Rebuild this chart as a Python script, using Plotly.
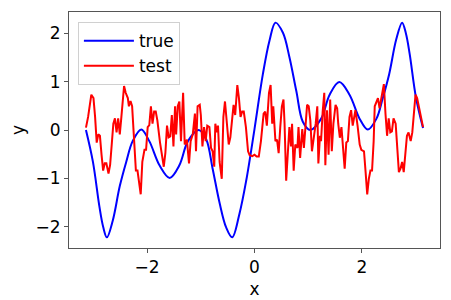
import plotly.graph_objects as go

# "true" curve
x_true = [-3.14, -3.01, -2.89, -2.82, -2.75, -2.64, -2.51, -2.39, -2.27, -2.11,
          -1.96, -1.77, -1.58, -1.40, -1.24, -1.04, -0.90, -0.78, -0.65, -0.53,
          -0.415, -0.28, -0.155, 0.0, 0.155, 0.28, 0.39, 0.53, 0.65, 0.78,
          0.90, 1.04, 1.24, 1.40, 1.58, 1.77, 1.96, 2.11, 2.27, 2.39,
          2.51, 2.64, 2.75, 2.82, 2.89, 3.01, 3.14]
y_true = [0.0, -0.66, -1.58, -2.0, -2.22, -1.87, -1.16, -0.66, -0.23, 0.01,
          -0.23, -0.73, -0.99, -0.73, -0.23, 0.0, -0.19, -0.8, -1.51, -2.01,
          -2.22, -1.73, -1.05, 0.02, 1.15, 1.85, 2.22, 2.01, 1.51, 0.8,
          0.17, 0.0, 0.23, 0.73, 0.99, 0.73, 0.23, 0.01, 0.23, 0.66,
          1.16, 1.87, 2.22, 2.0, 1.58, 0.66, 0.04]

# noisy "test" series
x_test = [-3.14, -3.10, -3.04, -3.00, -2.97, -2.94, -2.91, -2.88, -2.85, -2.82,
          -2.79, -2.76, -2.72, -2.69, -2.66, -2.63, -2.60, -2.57, -2.54, -2.51,
          -2.48, -2.43, -2.40, -2.36, -2.34, -2.31, -2.28, -2.24, -2.21, -2.18,
          -2.12, -2.09, -2.05, -2.02, -1.99, -1.96, -1.93, -1.90, -1.87, -1.84,
          -1.81, -1.76, -1.73, -1.69, -1.66, -1.63, -1.60, -1.57, -1.54, -1.51,
          -1.48, -1.46, -1.43, -1.40, -1.37, -1.33, -1.30, -1.26, -1.22, -1.19,
          -1.15, -1.11, -1.09, -1.06, -1.02, -1.00, -0.97, -0.94, -0.91, -0.88,
          -0.84, -0.81, -0.78, -0.75, -0.73, -0.70, -0.68, -0.65, -0.61, -0.58,
          -0.55, -0.52, -0.48, -0.45, -0.42, -0.39, -0.36, -0.32, -0.29, -0.26,
          -0.23, -0.20, -0.16, -0.12, -0.09, -0.04, 0.0, 0.04, 0.08, 0.12,
          0.17, 0.20, 0.23, 0.27, 0.30, 0.33, 0.35, 0.39, 0.42, 0.45,
          0.48, 0.51, 0.54, 0.56, 0.59, 0.62, 0.65, 0.68, 0.70, 0.73,
          0.76, 0.80, 0.82, 0.85, 0.89, 0.92, 0.95, 0.98, 1.01, 1.04,
          1.07, 1.10, 1.14, 1.17, 1.19, 1.22, 1.24, 1.27, 1.30, 1.32,
          1.35, 1.38, 1.41, 1.44, 1.47, 1.51, 1.54, 1.56, 1.59, 1.62,
          1.65, 1.68, 1.71, 1.74, 1.77, 1.80, 1.83, 1.86, 1.88, 1.92,
          1.96, 1.99, 2.04, 2.07, 2.10, 2.13, 2.16, 2.19, 2.22, 2.24,
          2.27, 2.30, 2.33, 2.36, 2.41, 2.44, 2.47, 2.50, 2.53, 2.56,
          2.59, 2.63, 2.66, 2.69, 2.72, 2.75, 2.78, 2.81, 2.84, 2.87,
          2.91, 2.94, 2.97, 3.00, 3.03, 3.06, 3.09, 3.14]
y_test = [0.05, 0.27, 0.73, 0.66, 0.27, -0.26, -0.09, -0.12, -0.51, -0.84,
          -0.69, -0.69, -0.90, -0.72, -0.30, 0.13, 0.24, -0.05, 0.24, -0.09,
          0.27, 0.91, 0.77, 0.66, 0.49, 0.60, 0.49, -0.19, -0.84, -0.84,
          -1.33, -0.66, -0.41, -0.41, 0.06, 0.10, 0.49, 0.13, 0.38, 0.38,
          0.20, -0.26, -0.51, -0.76, -0.47, 0.09, -0.15, -0.13, 0.31, -0.34,
          0.49, -0.09, 0.49, 0.59, -0.23, 0.77, -0.30, -0.20, -0.69, -0.23,
          -0.09, 0.34, -0.44, 0.49, 0.52, 0.31, -0.34, 0.06, -0.23, 0.09,
          0.06, -0.37, -0.44, -0.76, 0.13, -0.05, 0.09, -0.66, -1.01, 0.27,
          0.59, 0.27, -0.30, -0.15, 0.13, 0.52, 0.31, 0.93, 0.66, 0.27,
          0.38, 0.38, 0.06, -0.44, -0.52, -0.54, -0.51, -0.55, -0.55, -0.23,
          0.34, 0.38, 0.09, 0.77, 0.93, 0.13, 0.49, -0.23, -0.20, -0.48,
          0.06, 0.49, 0.63, 0.13, -1.05, -0.51, 0.06, -0.34, 0.13, -0.84,
          -0.30, -0.37, 0.06, -0.58, 0.02, -0.37, 0.13, 0.52, 0.49, 0.20,
          -0.44, -0.23, 0.13, 0.49, -0.69, -0.12, -0.23, 0.38, 0.77, -0.73,
          0.41, -0.51, 0.63, -0.44, 0.13, 0.52, 0.45, 0.13, -0.16, 0.06,
          -0.37, -0.80, -0.26, -0.23, 0.27, 0.41, 0.09, 0.27, 0.41, 0.09,
          -0.30, -0.41, -0.44, -0.87, -1.33, -1.01, -0.84, -0.84, -0.23, 0.49,
          0.56, 0.66, 0.45, 0.63, 0.95, 0.34, -0.12, 0.24, -0.05, -0.03,
          0.24, 0.13, -0.37, -0.87, -0.80, -0.66, -0.87, -0.51, -0.12, -0.05,
          -0.23, -0.05, 0.41, 0.73, 0.66, 0.49, 0.27, 0.06]

x_ticks = [-2, 0, 2]
y_ticks = [-2, -1, 0, 1, 2]

font = dict(family="DejaVu Sans", size=17, color="black")

fig = go.Figure()
fig.add_trace(go.Scatter(x=x_true, y=y_true, mode="lines", name="true",
                         line=dict(color="blue", width=2, shape="spline")))
fig.add_trace(go.Scatter(x=x_test, y=y_test, mode="lines", name="test",
                         line=dict(color="red", width=2)))

axis_style = dict(showline=True, mirror=True, linecolor="#555", linewidth=1,
                  ticks="outside", ticklen=4, tickcolor="#555",
                  showgrid=False, zeroline=False, tickfont=font)

# the page body adds an 8px offset, so the figure is 8px smaller
fig.update_layout(
    width=443, height=292,
    margin=dict(l=61, r=11, t=4, b=52),
    paper_bgcolor="white", plot_bgcolor="white",
    font=font,
    showlegend=True,
    legend=dict(x=0.024, y=0.957, xanchor="left", yanchor="top",
                bgcolor="rgba(255,255,255,0.8)", bordercolor="#d0d0d0",
                borderwidth=1, font=dict(family="DejaVu Sans", size=17),
                itemwidth=50),
)
fig.update_xaxes(axis_style, range=[-3.456, 3.456], tickvals=x_ticks,
                 title=dict(text="x", font=font, standoff=6))
fig.update_yaxes(axis_style, range=[-2.44, 2.44], tickvals=y_ticks,
                 title=dict(text="y", font=font, standoff=10))

fig.write_html("out.html")
